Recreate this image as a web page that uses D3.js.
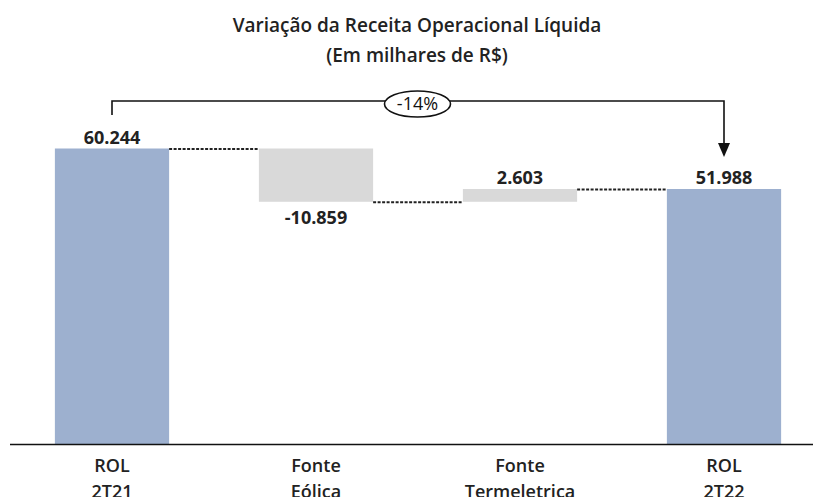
<!DOCTYPE html>
<html>
<head>
<meta charset="utf-8">
<script src="https://cdn.jsdelivr.net/npm/d3@7"></script>
<style>
  body { margin: 0; background: #fff; }
  svg { display: block; font-family: "Open Sans", sans-serif; }
</style>
</head>
<body>
<div id="chart"></div>
<script>
// dados do gráfico
const categorias = ["ROL 2T21", "Fonte Eólica", "Fonte Termeletrica", "ROL 2T22"];
const rotulos = [["ROL", "2T21"], ["Fonte", "Eólica"], ["Fonte", "Termeletrica"], ["ROL", "2T22"]];
const valores = [60244, -10859, 2603, 51988];
const tipos = ["total", "delta", "delta", "total"];
const variacao = "-14%";
const titulo = ["Variação da Receita Operacional Líquida", "(Em milhares de R$)"];

const W = 813, H = 497;
const base = 444;

// acumulado para a cascata
let acum = 0;
const dados = categorias.map((c, i) => {
  let y0, y1;
  if (tipos[i] === "total") { y0 = 0; y1 = valores[i]; acum = valores[i]; }
  else { y0 = acum; y1 = acum + valores[i]; acum = y1; }
  return { cat: c, lab: rotulos[i], v: valores[i], tipo: tipos[i], y0, y1 };
});

// formato brasileiro (ponto como separador de milhar)
const br = d3.formatLocale({ decimal: ",", thousands: ".", grouping: [3], currency: ["R$", ""], minus: "-" });
const fmt = br.format(",");

const x = d3.scaleBand()
  .domain(categorias)
  .range([10, 826])
  .paddingInner(0.44)
  .paddingOuter(0.22);

const y = d3.scaleLinear()
  .domain([0, d3.max(valores)])
  .range([base, 148.5]);

const svg = d3.select("#chart").append("svg")
  .attr("width", W)
  .attr("height", H);

// título
svg.append("g").selectAll("text")
  .data(titulo)
  .join("text")
  .attr("x", 417)
  .attr("y", (d, i) => 32 + i * 30)
  .attr("text-anchor", "middle")
  .style("font-size", "19px")
  .style("font-weight", 600)
  .style("fill", "#222")
  .text(d => d);

// barras
svg.append("g").selectAll("rect")
  .data(dados)
  .join("rect")
  .attr("x", d => x(d.cat))
  .attr("width", x.bandwidth())
  .attr("y", d => y(Math.max(d.y0, d.y1)))
  .attr("height", d => Math.abs(y(d.y0) - y(d.y1)))
  .attr("fill", d => d.tipo === "total" ? "#9DB0CF" : "#D9D9D9");

// conectores tracejados
svg.append("g").selectAll("line")
  .data(dados.slice(0, -1))
  .join("line")
  .attr("x1", d => x(d.cat) + x.bandwidth())
  .attr("x2", (d, i) => x(dados[i + 1].cat))
  .attr("y1", d => y(d.y1) + 0.5)
  .attr("y2", d => y(d.y1) + 0.5)
  .attr("stroke", "#222")
  .attr("stroke-width", 1.8)
  .attr("stroke-dasharray", "3,1.5");

// eixo
svg.append("line")
  .attr("x1", 10).attr("x2", W)
  .attr("y1", base + 0.5).attr("y2", base + 0.5)
  .attr("stroke", "#111")
  .attr("stroke-width", 1.6);

// rótulos de valor
svg.append("g").selectAll("text")
  .data(dados)
  .join("text")
  .attr("x", d => x(d.cat) + x.bandwidth() / 2)
  .attr("y", d => d.v < 0 ? y(d.y1) + 22.5 : y(d.y1) - 5)
  .attr("text-anchor", "middle")
  .style("font-size", "18px")
  .style("font-weight", 700)
  .style("fill", "#222")
  .text(d => fmt(d.v));

// rótulos das categorias
const cats = svg.append("g").selectAll("text")
  .data(dados)
  .join("text")
  .attr("x", d => x(d.cat) + x.bandwidth() / 2)
  .attr("text-anchor", "middle")
  .style("font-size", "18px")
  .style("font-weight", 600)
  .style("fill", "#222");
cats.selectAll("tspan")
  .data(d => d.lab)
  .join("tspan")
  .attr("x", function () { return d3.select(this.parentNode).attr("x"); })
  .attr("y", (d, i) => 472 + i * 26)
  .text(d => d);

// seta de variação
const xa = x(categorias[0]) + x.bandwidth() / 2;
const xb = x(categorias[3]) + x.bandwidth() / 2;
const yTopo = 101;
svg.append("path")
  .attr("d", `M${xa},115 V${yTopo} H${xb} V${y(valores[3]) - 45}`)
  .attr("fill", "none")
  .attr("stroke", "#111")
  .attr("stroke-width", 1.6);
svg.append("path")
  .attr("d", `M${xb - 6},${y(valores[3]) - 46} L${xb + 6},${y(valores[3]) - 46} L${xb},${y(valores[3]) - 32} Z`)
  .attr("fill", "#111");

const xm = (xa + xb) / 2 - 0.5;
svg.append("ellipse")
  .attr("cx", xm).attr("cy", 104)
  .attr("rx", 33).attr("ry", 13)
  .attr("fill", "#fff")
  .attr("stroke", "#111")
  .attr("stroke-width", 1.6);
svg.append("text")
  .attr("x", xm).attr("y", 110)
  .attr("text-anchor", "middle")
  .style("font-size", "18px")
  .style("fill", "#111")
  .text(variacao);
</script>
</body>
</html>
